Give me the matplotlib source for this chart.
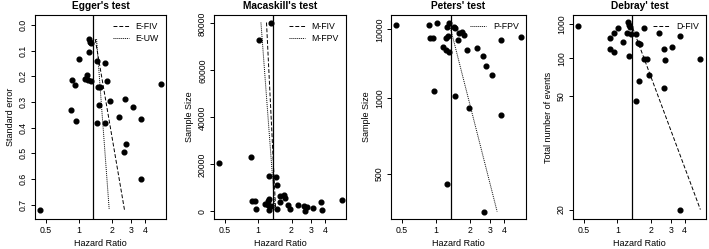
import matplotlib
matplotlib.use("Agg")
import matplotlib.pyplot as plt
from matplotlib.ticker import NullLocator

plt.rcParams['font.family'] = ['Liberation Sans', 'DejaVu Sans']

# pooled hazard ratio (vertical reference line)
pooled_hr = 1.36

# Egger's test: hazard ratio vs standard error
egger_hr = [1.24, 1.26, 1.29, 1.245, 1.01, 1.45, 1.74, 1.18, 1.15, 1.22, 1.30, 0.86,
            0.925, 1.82, 1.50, 1.56, 5.57, 1.92, 2.63, 3.10, 1.54, 0.85, 0.95, 1.475,
            1.72, 2.32, 3.68, 2.71, 2.60, 3.70, 0.443]
egger_se = [0.056, 0.065, 0.071, 0.104, 0.132, 0.139, 0.147, 0.195, 0.212, 0.214, 0.218, 0.216,
            0.233, 0.218, 0.240, 0.240, 0.230, 0.296, 0.288, 0.321, 0.313, 0.332, 0.374, 0.380,
            0.380, 0.360, 0.365, 0.464, 0.495, 0.600, 0.721]
egger_fiv_hr = [1.41, 2.60]
egger_uw_hr = [1.45, 1.89]
egger_line_se = [0.055, 0.72]

# Macaskill's / Peters' tests: hazard ratio vs sample size
study_hr = [0.444, 0.87, 1.02, 1.25, 1.30, 1.44, 1.48, 1.58, 1.70, 1.75, 0.875, 0.93,
            1.22, 1.26, 1.16, 1.22, 1.31, 1.86, 2.30, 2.61, 3.70, 5.65, 2.75, 3.10,
            0.95, 1.475, 1.93, 3.73, 1.25, 2.65, 1.56]
sample_size = [20650, 23300, 73000, 15000, 80400, 14500, 11300, 6750, 7200, 5700, 4560, 4560,
               4560, 5460, 3060, 2690, 2510, 2690, 2860, 2210, 4220, 5080, 1730, 1440,
               1100, 1020, 880, 817, 470, 401, 4060]
mac_fiv_hr = [1.19, 1.44]
mac_fpv_hr = [1.06, 1.42]
mac_line_n = [80400, 401]
peters_fpv_hr = [1.30, 3.45]
peters_line_n = [80400, 401]

# Debray's test: hazard ratio vs total number of events
debray_hr = [0.444, 1.02, 0.926, 0.857, 0.857, 0.94, 1.13, 1.24, 1.26, 1.29, 1.22, 1.33,
             1.27, 1.46, 1.53, 1.59, 1.73, 2.33, 2.59, 3.08, 3.62, 5.52, 1.73, 1.85,
             2.69, 1.55, 1.90, 2.63, 1.48, 3.65]
debray_events = [650, 500, 300, 214, 132, 121, 179, 2700, 917, 590, 308, 285,
                 105, 285, 169, 161, 500, 308, 132, 141, 236, 97, 97, 97,
                 96, 62, 69, 56, 47, 20]
debray_fiv_hr = [1.37, 5.52]
debray_line_events = [500, 20]

W, H = 709, 249
fig = plt.figure(figsize=(W / 100, H / 100), dpi=100)

def panel(left, right, top=15, bottom=219):
    return fig.add_axes([left / W, 1 - bottom / H, (right - left) / W, (bottom - top) / H])

def style(ax, title, ylabel):
    ax.set_xscale('log')
    ax.set_xlim(0.40, 6.2)
    ax.set_xticks([0.5, 1, 2, 3, 4])
    ax.set_xticklabels(['0.5', '1', '2', '3', '4'])
    ax.xaxis.set_minor_locator(NullLocator())
    ax.tick_params(axis='both', labelsize=6.3, length=3, width=0.7, pad=2)
    for lab in ax.get_yticklabels():
        lab.set_rotation(90)
        lab.set_va('center')
    ax.set_title(title, fontsize=7.3, fontweight='bold', pad=4)
    ax.set_xlabel('Hazard Ratio', fontsize=6.5, labelpad=3)
    ax.set_ylabel(ylabel, fontsize=6.5, labelpad=3)
    for s in ax.spines.values():
        s.set_linewidth(0.8)
    ax.axvline(pooled_hr, color='black', lw=0.9)
    ax.legend(loc='upper right', frameon=False, fontsize=6.3, handlelength=1.8,
              borderaxespad=0.4, labelspacing=0.35, handletextpad=0.8)

pt = dict(marker='o', ls='none', ms=3.4, color='black')

# Egger
ax = panel(35, 166)
ax.plot(egger_hr, egger_se, **pt)
ax.plot(egger_fiv_hr, egger_line_se, ls=(0, (4, 2)), color='black', lw=0.7, label='E-FIV')
ax.plot(egger_uw_hr, egger_line_se, ls=(0, (1, 1)), color='black', lw=0.7, label='E-UW')
ax.set_ylim(0.756, -0.039)
ax.set_yticks([0.0, 0.1, 0.2, 0.3, 0.4, 0.5, 0.6, 0.7])
ax.set_yticklabels(['0.0', '0.1', '0.2', '0.3', '0.4', '0.5', '0.6', '0.7'])
style(ax, "Egger's test", 'Standard error')

# Macaskill
ax = panel(214, 346)
ax.plot(study_hr, sample_size, **pt)
ax.plot(mac_fiv_hr, mac_line_n, ls=(0, (4, 2)), color='black', lw=0.7, label='M-FIV')
ax.plot(mac_fpv_hr, mac_line_n, ls=(0, (1, 1)), color='black', lw=0.7, label='M-FPV')
ax.set_ylim(-3216, 83600)
ax.set_yticks([0, 20000, 40000, 60000, 80000])
ax.set_yticklabels(['0', '20000', '40000', '60000', '80000'])
style(ax, "Macaskill's test", 'Sample Size')

# Peters (y on 1/n scale)
ax = panel(391, 526)
ax.plot(study_hr, [1 / n for n in sample_size], **pt)
ax.plot(peters_fpv_hr, [1 / n for n in peters_line_n], ls=(0, (1, 1)), color='black', lw=0.7,
        label='P-FPV')
ax.set_ylim(0.002592, -0.0000872)
ax.set_yticks([1 / 500, 1 / 1000, 1 / 10000])
ax.set_yticklabels(['500', '1000', '10000'])
style(ax, "Peters' test", 'Sample Size')

# Debray (y on 1/events scale)
ax = panel(573, 706)
ax.plot(debray_hr, [1 / e for e in debray_events], **pt)
ax.plot(debray_fiv_hr, [1 / e for e in debray_line_events], ls=(0, (4, 2)), color='black', lw=0.7,
        label='D-FIV')
ax.set_ylim(0.0525, -0.00143)
ax.set_yticks([1 / 20, 1 / 50, 1 / 100, 1 / 1000])
ax.set_yticklabels(['20', '50', '100', '1000'])
style(ax, "Debray' test", 'Total number of events')

fig.savefig('out.png', dpi=100)
